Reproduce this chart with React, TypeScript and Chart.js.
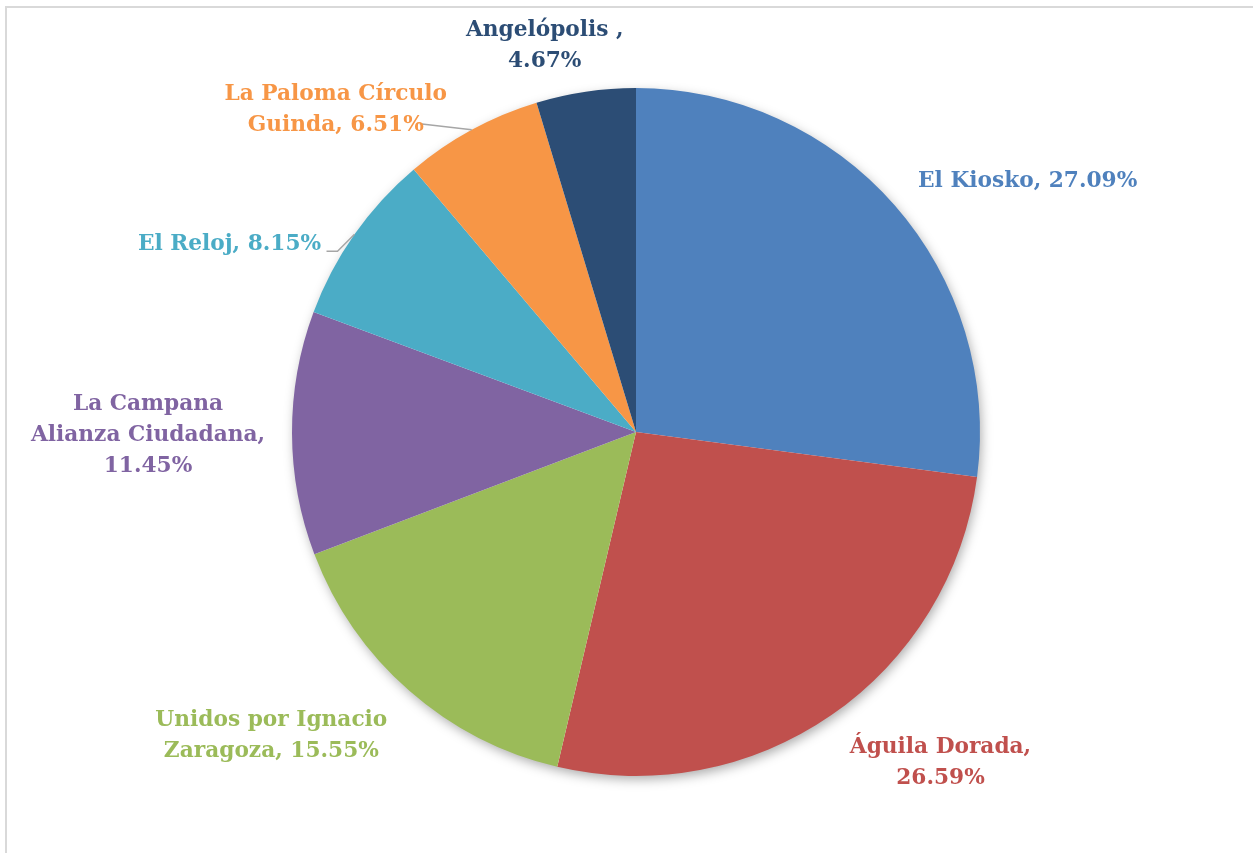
import React, { useEffect, useRef } from "react";
import { Chart, registerables } from "chart.js";

Chart.register(...registerables);

const categories = [
  "El Kiosko",
  "Águila Dorada",
  "Unidos por Ignacio Zaragoza",
  "La Campana Alianza Ciudadana",
  "El Reloj",
  "La Paloma Círculo Guinda",
  "Angelópolis",
];
const shares = [27.09, 26.59, 15.55, 11.45, 8.15, 6.51, 4.67];
const sliceColors = ["#4F81BD", "#C0504D", "#9BBB59", "#8064A2", "#4BACC6", "#F79646", "#2C4D75"];
const labelLines = [
  ["El Kiosko, 27.09%"],
  ["Águila Dorada,", "26.59%"],
  ["Unidos por Ignacio", "Zaragoza, 15.55%"],
  ["La Campana", "Alianza Ciudadana,", "11.45%"],
  ["El Reloj, 8.15%"],
  ["La Paloma Círculo", "Guinda, 6.51%"],
  ["Angelópolis ,", "4.67%"],
];
// label centre offset relative to the slice's outer mid-point
const labelOffsets = [
  [133, -24],
  [109, 48],
  [-138, 45],
  [-144, 2],
  [-125, 10],
  [-136, -20],
  [-41, -46],
];
// leader lines: null or list of points relative to outer mid-point
const leaders: (number[][] | null)[] = [
  null,
  null,
  null,
  null,
  [[0, 0], [-17, 17], [-28, 17]],
  [[0, 0], [-52, -6]],
  null,
];

const FONT = "bold 21.7px 'DejaVu Serif', serif";
const LINE_H = 31;

const shadowPlugin = {
  id: "pieShadow",
  beforeDatasetsDraw(chart: any) {
    const meta = chart.getDatasetMeta(0);
    const arc = meta.data[0];
    if (!arc) return;
    const { x, y, outerRadius } = arc.getProps(["x", "y", "outerRadius"], true);
    const ctx = chart.ctx;
    ctx.save();
    ctx.shadowColor = "rgba(0,0,0,0.35)";
    ctx.shadowBlur = 12;
    ctx.shadowOffsetX = 2;
    ctx.shadowOffsetY = 4;
    ctx.beginPath();
    ctx.arc(x, y, outerRadius - 1, 0, Math.PI * 2);
    ctx.fillStyle = "#ffffff";
    ctx.fill();
    ctx.restore();
  },
};

const labelPlugin = {
  id: "pieLabels",
  afterDatasetsDraw(chart: any) {
    const meta = chart.getDatasetMeta(0);
    const ctx = chart.ctx;
    ctx.save();
    ctx.font = FONT;
    ctx.textAlign = "center";
    ctx.textBaseline = "middle";
    meta.data.forEach((arc: any, i: number) => {
      const { x, y, startAngle, endAngle, outerRadius } = arc.getProps(
        ["x", "y", "startAngle", "endAngle", "outerRadius"],
        true
      );
      const mid = (startAngle + endAngle) / 2;
      const ex = x + outerRadius * Math.cos(mid);
      const ey = y + outerRadius * Math.sin(mid);
      const ld = leaders[i];
      if (ld) {
        ctx.strokeStyle = "#A6A6A6";
        ctx.lineWidth = 1.5;
        ctx.beginPath();
        ld.forEach((p, k) => {
          if (k === 0) ctx.moveTo(ex + p[0], ey + p[1]);
          else ctx.lineTo(ex + p[0], ey + p[1]);
        });
        ctx.stroke();
      }
      const lines = labelLines[i];
      const cx = ex + labelOffsets[i][0];
      const cy = ey + labelOffsets[i][1];
      ctx.fillStyle = sliceColors[i];
      lines.forEach((t, k) => {
        const ly = cy + (k - (lines.length - 1) / 2) * LINE_H;
        ctx.fillText(t, cx, ly);
      });
    });
    ctx.restore();
  },
};

export default function App() {
  const ref = useRef<HTMLCanvasElement>(null);
  useEffect(() => {
    if (!ref.current) return;
    const chart = new Chart(ref.current, {
      type: "pie",
      data: {
        labels: categories,
        datasets: [
          {
            data: shares,
            backgroundColor: sliceColors,
            borderWidth: 0,
          },
        ],
      },
      options: {
        responsive: false,
        animation: false,
        layout: { padding: { left: 292, right: 273, top: 88, bottom: 77 } },
        plugins: {
          legend: { display: false },
          tooltip: { enabled: false },
        },
      },
      plugins: [shadowPlugin, labelPlugin],
    });
    return () => chart.destroy();
  }, []);
  return (
    <div
      style={{
        position: "fixed",
        left: 0,
        top: 0,
        width: 1253,
        height: 853,
        overflow: "hidden",
        background: "#ffffff",
      }}
    >
      <div
        style={{
          position: "absolute",
          left: 5,
          top: 6,
          width: 1400,
          height: 1000,
          border: "2px solid #D9D9D9",
        }}
      />
      <canvas
        ref={ref}
        width={1253}
        height={853}
        style={{ position: "absolute", left: 0, top: 0, width: 1253, height: 853 }}
      />
    </div>
  );
}
